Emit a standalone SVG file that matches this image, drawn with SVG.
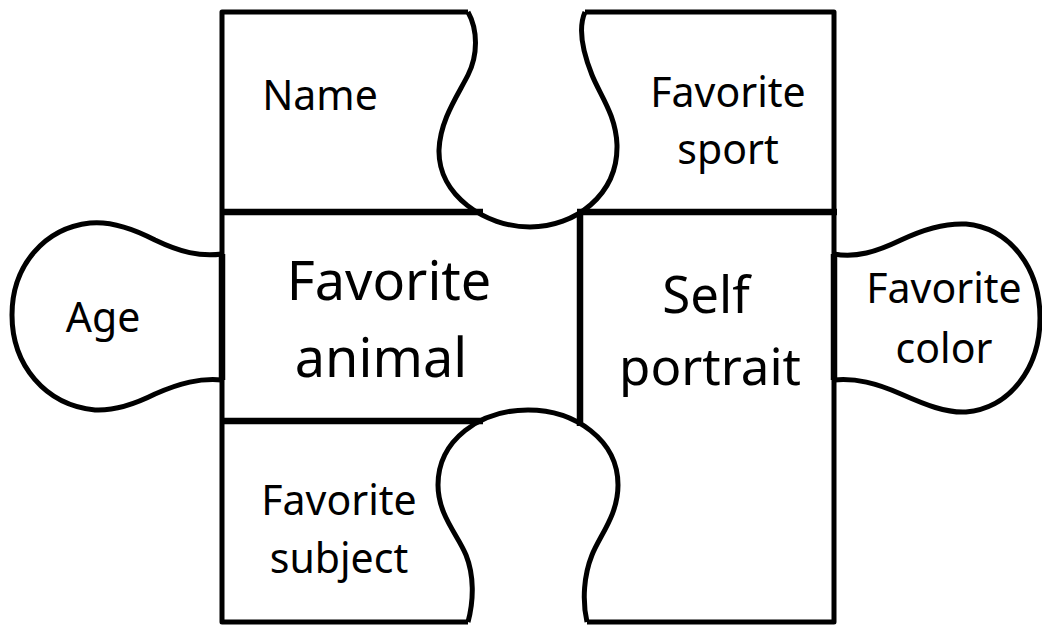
<svg xmlns="http://www.w3.org/2000/svg" width="1042" height="625" viewBox="0 0 1042 625">
<style>
.ln{fill:none;stroke:#000;stroke-width:5;stroke-linejoin:round;stroke-linecap:butt}
.sep{fill:none;stroke:#000;stroke-width:6.5;stroke-linecap:butt}
.t{font-family:"Noto Sans","Open Sans",sans-serif;fill:#000;text-anchor:middle}
.s{font-size:41px}
.b{font-size:54px}
.m{font-size:51px}
</style>
<rect width="1042" height="625" fill="#fff"/>
<g id="connectors">
<path class="ln" d="M468,12 C478,30 478,55 468,75 C458,95 440,120 439,150 C438,195 485,227 530,227 C575,227 618,195 617,145 C616,115 600,95 592,75 C582,50 578,28 585,12"/>
<path class="ln" d="M468,622 C474,600 474,575 466,555 C458,535 438,515 438,485 C438,440 480,410 528,410 C575,410 618,440 618,485 C618,515 600,535 592,555 C584,575 582,600 587,622"/>
</g>
<g id="name">
<path class="ln" d="M468,12 L222,12 L222,212"/>
<text class="t s" x="320" y="110">Name</text>
</g>
<g id="favorite-sport">
<path class="ln" d="M585,12 L834,12 L834,212"/>
<text class="t s" x="728" y="107">Favorite</text>
<text class="t s" x="728" y="164">sport</text>
</g>
<g id="favorite-animal">
<path class="sep" d="M222,212 L483,212 M577,212 L837,212 M580,212 L580,426 M222,421 L483,421"/>
<path class="ln" d="M222,212 L222,421"/>
<text class="t b" x="389" y="300">Favorite</text>
<text class="t b" x="381" y="377">animal</text>
</g>
<g id="age">
<path class="ln" d="M222,254 C200,257 180,252 155,240 C130,227 110,221 90,223 C45,228 12,265 12,315 C12,365 45,405 95,410 C115,411 135,404 155,394 C180,383 200,378 222,380"/>
<path class="sep" d="M222,254 L222,380"/>
<text class="t s" x="103" y="332">Age</text>
</g>
<g id="self-portrait">
<path class="ln" d="M834,212 L834,622 L587,622"/>
<text class="t m" x="706" y="313">Self</text>
<text class="t m" x="710" y="385">portrait</text>
</g>
<g id="favorite-color">
<path class="ln" d="M834,254 C856,258 876,252 901,240 C926,228 946,223 966,224 C1010,228 1040,268 1040,318 C1040,368 1010,408 966,412 C946,413 926,405 901,394 C876,383 856,378 834,380"/>
<path class="sep" d="M834,254 L834,380"/>
<text class="t s" x="944" y="303">Favorite</text>
<text class="t s" x="944" y="363">color</text>
</g>
<g id="favorite-subject">
<path class="ln" d="M222,421 L222,622 L468,622"/>
<text class="t s" x="339" y="515">Favorite</text>
<text class="t s" x="339" y="573">subject</text>
</g>
</svg>
